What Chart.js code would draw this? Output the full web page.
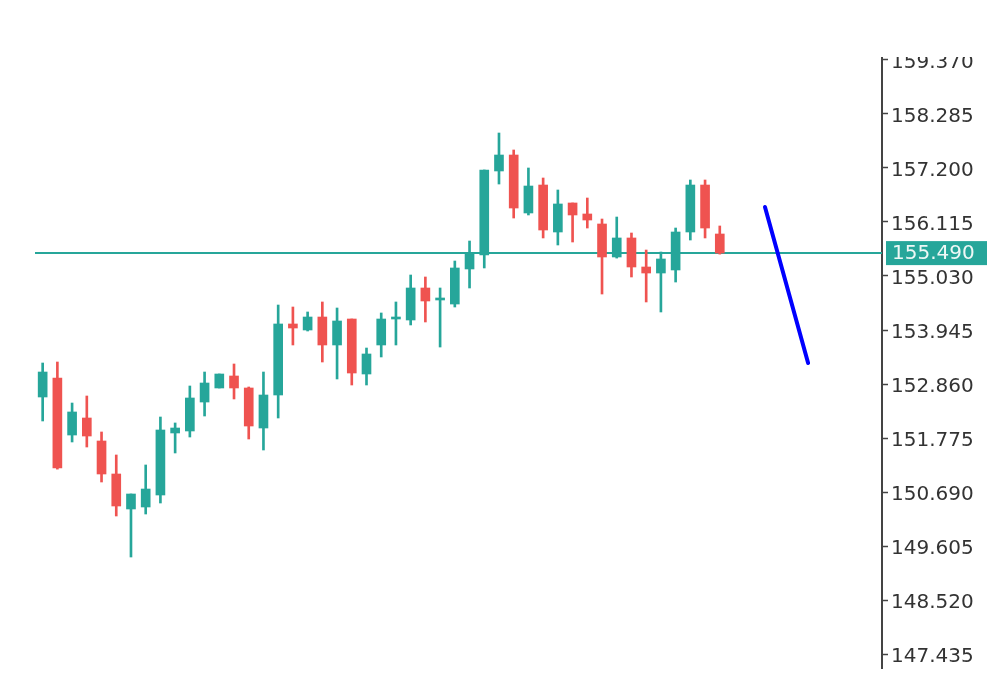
<!DOCTYPE html>
<html>
<head>
<meta charset="utf-8">
<title>Candles</title>
<script src="https://cdn.jsdelivr.net/npm/chart.js@4.4.1/dist/chart.umd.min.js"></script>
<style>
  html, body { margin: 0; padding: 0; background: #fff; }
  #wrap { position: absolute; left: 0; top: 57px; width: 1000px; height: 629px; }
</style>
</head>
<body>
<div id="wrap"><canvas id="chart"></canvas></div>
<script>
// candle values, oldest first
const opens  = [152.599, 152.981, 151.835, 152.177, 151.715, 151.052, 150.349, 150.389, 150.630, 151.876,
                151.916, 152.498, 152.780, 153.021, 152.780, 151.976, 152.639, 154.066, 153.945, 154.206,
                153.644, 154.166, 153.061, 153.644, 154.166, 154.146, 154.789, 154.548, 154.467, 155.171,
                155.452, 157.140, 157.461, 156.296, 156.858, 155.914, 156.497, 156.276, 156.075, 155.412,
                155.794, 155.211, 155.090, 155.151, 155.914, 156.858, 155.874];
const highs  = [153.282, 153.302, 152.478, 152.619, 151.896, 151.434, 150.650, 151.233, 152.197, 152.077,
                152.820, 153.101, 153.061, 153.262, 152.800, 153.101, 154.447, 154.407, 154.307, 154.508,
                154.387, 154.166, 153.583, 154.287, 154.508, 155.050, 155.010, 154.789, 155.331, 155.733,
                157.160, 157.903, 157.562, 157.200, 156.999, 156.758, 156.497, 156.597, 156.175, 156.215,
                155.894, 155.552, 155.512, 155.994, 156.959, 156.959, 156.035];
const lows   = [152.117, 151.150, 151.695, 151.594, 150.891, 150.208, 149.384, 150.248, 150.469, 151.474,
                151.795, 152.217, 152.780, 152.559, 151.755, 151.534, 152.177, 153.644, 153.925, 153.302,
                152.961, 152.840, 152.840, 153.403, 153.644, 154.046, 154.106, 153.603, 154.407, 154.789,
                155.191, 156.878, 156.195, 156.256, 155.794, 155.653, 155.713, 155.994, 154.668, 155.390,
                155.010, 154.508, 154.307, 154.909, 155.753, 155.794, 155.470];
const closes = [153.101, 151.172, 152.298, 151.815, 151.052, 150.409, 150.650, 150.750, 151.936, 151.976,
                152.579, 152.880, 153.061, 152.780, 152.016, 152.639, 154.066, 153.985, 154.206, 153.644,
                154.126, 153.081, 153.463, 154.166, 154.206, 154.789, 154.528, 154.588, 155.191, 155.492,
                157.160, 157.461, 156.396, 156.838, 155.954, 156.477, 156.256, 156.155, 155.412, 155.794,
                155.211, 155.090, 155.372, 155.914, 156.858, 155.994, 155.490];

const yTicks = [147.435, 148.520, 149.605, 150.690, 151.775, 152.860, 153.945, 155.030, 156.115, 157.200, 158.285, 159.370];
const lastPrice = 155.490;

// hand drawn trend line (bar index, price)
const trendX = [49.07, 52.0];
const trendY = [156.416, 153.282];

const X_MIN = -0.52, X_MAX = 57.02;
const UP = '#26a69a', DOWN = '#ef5350';

const colors = opens.map((o, i) => closes[i] >= o ? UP : DOWN);
const bodies = opens.map((o, i) => ({ x: i, y: [o, closes[i]] }));
const wicks  = lows.map((l, i) => ({ x: i, y: [l, highs[i]] }));

const priceTag = {
  id: 'priceTag',
  afterDraw(chart) {
    const { ctx } = chart;
    const y = chart.scales.y;
    const py = y.getPixelForValue(lastPrice);
    ctx.save();
    ctx.fillStyle = UP;
    ctx.fillRect(y.left + 4, py - 12, 101, 24);
    ctx.fillStyle = '#eef8f6';
    ctx.font = '20px "DejaVu Sans"';
    ctx.textBaseline = 'middle';
    ctx.fillText(lastPrice.toFixed(3), y.left + 10, py + 1);
    ctx.restore();
  }
};

new Chart(document.getElementById('chart'), {
  type: 'bar',
  data: {
    datasets: [
      {
        type: 'line',
        data: trendX.map((x, i) => ({ x, y: trendY[i] })),
        borderColor: '#0000ff',
        borderWidth: 4,
        borderCapStyle: 'round',
        pointRadius: 0,
        order: 0
      },
      {
        data: bodies,
        backgroundColor: colors,
        barThickness: 9,
        minBarLength: 2,
        grouped: false,
        order: 1
      },
      {
        data: wicks,
        backgroundColor: colors,
        barThickness: 2,
        grouped: false,
        order: 2
      },
      {
        type: 'line',
        data: [{ x: X_MIN, y: lastPrice }, { x: X_MAX, y: lastPrice }],
        borderColor: UP,
        borderWidth: 2,
        pointRadius: 0,
        order: 3
      }
    ]
  },
  options: {
    responsive: true,
    maintainAspectRatio: false,
    animation: false,
    layout: { padding: { left: 35, top: 1, right: 0, bottom: 18 } },
    plugins: { legend: { display: false }, tooltip: { enabled: false } },
    scales: {
      x: { type: 'linear', min: X_MIN, max: X_MAX, offset: false, display: false },
      y: {
        position: 'right',
        min: 147.154,
        max: 159.410,
        afterBuildTicks: scale => { scale.ticks = yTicks.map(v => ({ value: v })); },
        afterFit: scale => {
          scale.width = 118;
          scale.paddingTop = 0;
          scale.paddingBottom = 0;
        },
        border: { display: true, color: '#444', width: 2 },
        grid: { drawOnChartArea: false, drawTicks: true, tickLength: 6, color: '#444', tickWidth: 1.5 },
        ticks: {
          padding: 3,
          labelOffset: 3,
          color: '#333',
          font: { family: '"DejaVu Sans"', size: 20 },
          callback: v => Number(v).toFixed(3)
        }
      }
    }
  },
  plugins: [priceTag]
});
</script>
</body>
</html>
